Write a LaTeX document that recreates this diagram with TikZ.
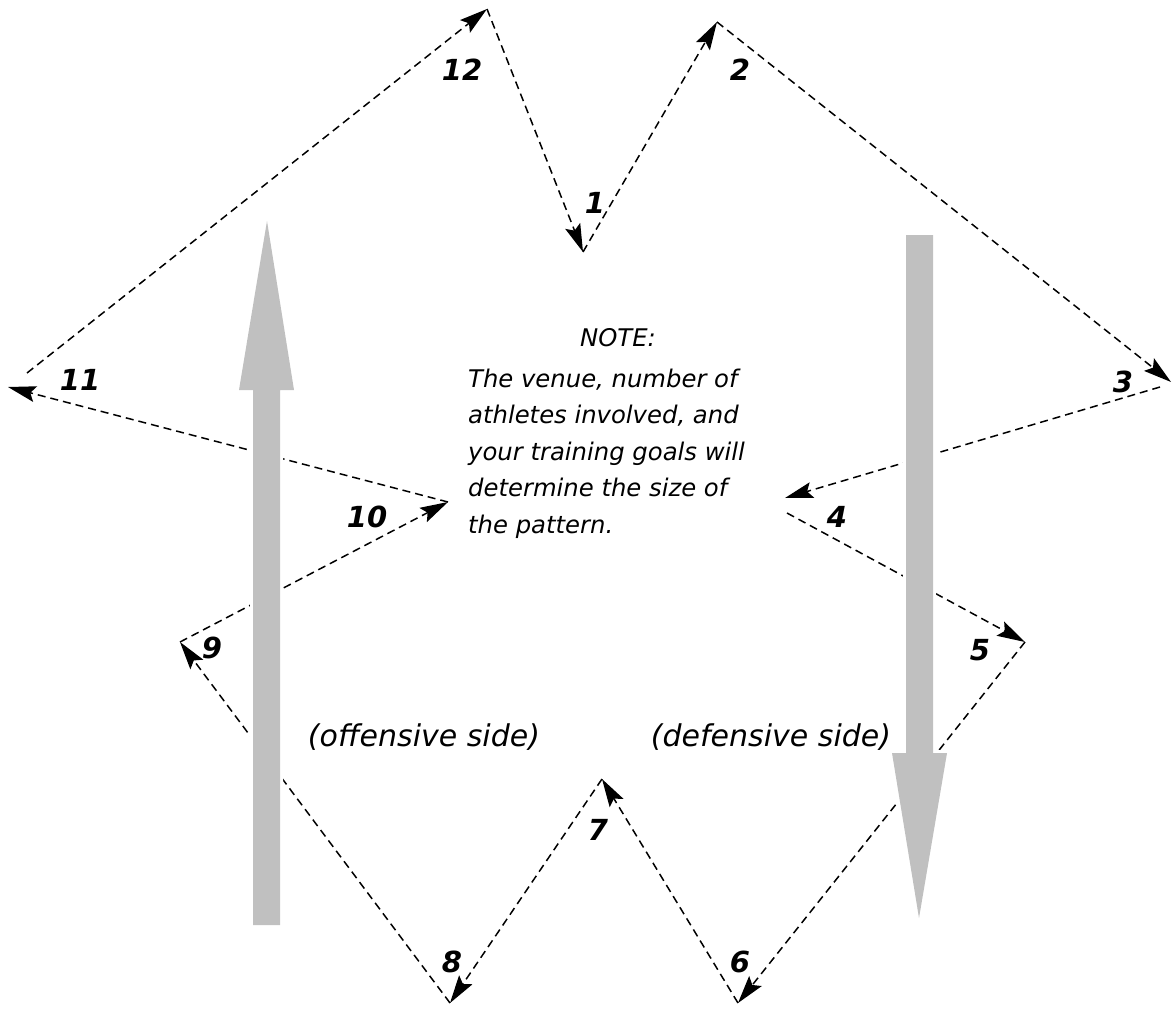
\documentclass[tikz,border=0pt]{standalone}
\usepackage{fontspec}
\setmainfont{DejaVu Sans}
\usetikzlibrary{arrows.meta}
\definecolor{arrowgray}{RGB}{192,192,192}
\tikzset{
  conn/.style={draw=black, line width=1.5pt, dash pattern=on 8pt off 5pt,
    -{Stealth[length=28pt,width=16pt,inset=5pt]}},
  numlbl/.style={inner sep=0pt, font=\fontsize{29}{29}\selectfont\bfseries\itshape},
  notetxt/.style={inner sep=0pt, anchor=base west, font=\fontsize{24.3}{30}\selectfont\itshape},
  sidetxt/.style={inner sep=0pt, font=\fontsize{30}{30}\selectfont\itshape},
  bigarrow/.style={fill=arrowgray, preaction={draw=white, line width=6pt}}
}
\begin{document}
\begin{tikzpicture}[x=1pt,y=-1pt]
\useasboundingbox (0,0) rectangle (1172,1009);
% vertices
\coordinate (p1) at (583,252);
\coordinate (p2) at (717,22);
\coordinate (p3) at (1171,382);
\coordinate (p3s) at (1160,387);
\coordinate (p4) at (785,498);
\coordinate (p4s) at (787,513);
\coordinate (p5) at (1025,642);
\coordinate (p6) at (738,1003);
\coordinate (p7) at (602,779);
\coordinate (p8) at (450,1003);
\coordinate (p9) at (180,642);
\coordinate (p10) at (448,502);
\coordinate (p11) at (8,387);
\coordinate (p11s) at (27,373);
\coordinate (p12) at (487,9);
% dashed path
\draw[conn] (p12) -- (p1);
\draw[conn] (p1) -- (p2);
\draw[conn] (p2) -- (p3);
\draw[conn] (p3s) -- (p4);
\draw[conn] (p4s) -- (p5);
\draw[conn] (p5) -- (p6);
\draw[conn] (p6) -- (p7);
\draw[conn] (p7) -- (p8);
\draw[conn] (p8) -- (p9);
\draw[conn] (p9) -- (p10);
\draw[conn] (p10) -- (p11);
\draw[conn] (p11s) -- (p12);
% big gray arrows
\path[bigarrow] (253,925) -- (253,390) -- (239,390) -- (267,221) -- (294,390) -- (280,390) -- (280,925) -- cycle;
\path[bigarrow] (906,235) -- (906,753) -- (892,753) -- (919,918) -- (947,753) -- (933,753) -- (933,235) -- cycle;
% labels
\node[numlbl] (l1) at (595,203) {1};
\node[numlbl] (l2) at (740,70) {2};
\node[numlbl] (l3) at (1123,382) {3};
\node[numlbl] (l4) at (837,517) {4};
\node[numlbl] (l5) at (980,650) {5};
\node[numlbl] (l6) at (740,962) {6};
\node[numlbl] (l7) at (598,830) {7};
\node[numlbl] (l8) at (452,962) {8};
\node[numlbl] (l9) at (212,648) {9};
\node[numlbl] (l10) at (367,517) {10};
\node[numlbl] (l11) at (80,380) {11};
\node[numlbl] (l12) at (462,70) {12};
% note
\node[inner sep=0pt, font=\fontsize{24.3}{30}\selectfont\itshape] (note) at (618,338) {NOTE:};
\node[notetxt] (n1) at (468,387) {The venue, number of};
\node[notetxt] (n2) at (468,423.5) {athletes involved, and};
\node[notetxt] (n3) at (468,460) {your training goals will};
\node[notetxt] (n4) at (468,496.5) {determine the size of};
\node[notetxt] (n5) at (468,533) {the pattern.};
% sides
\node[sidetxt] (off) at (424,737) {(offensive side)};
\node[sidetxt] (def) at (771,737) {(defensive side)};
\end{tikzpicture}
\end{document}
